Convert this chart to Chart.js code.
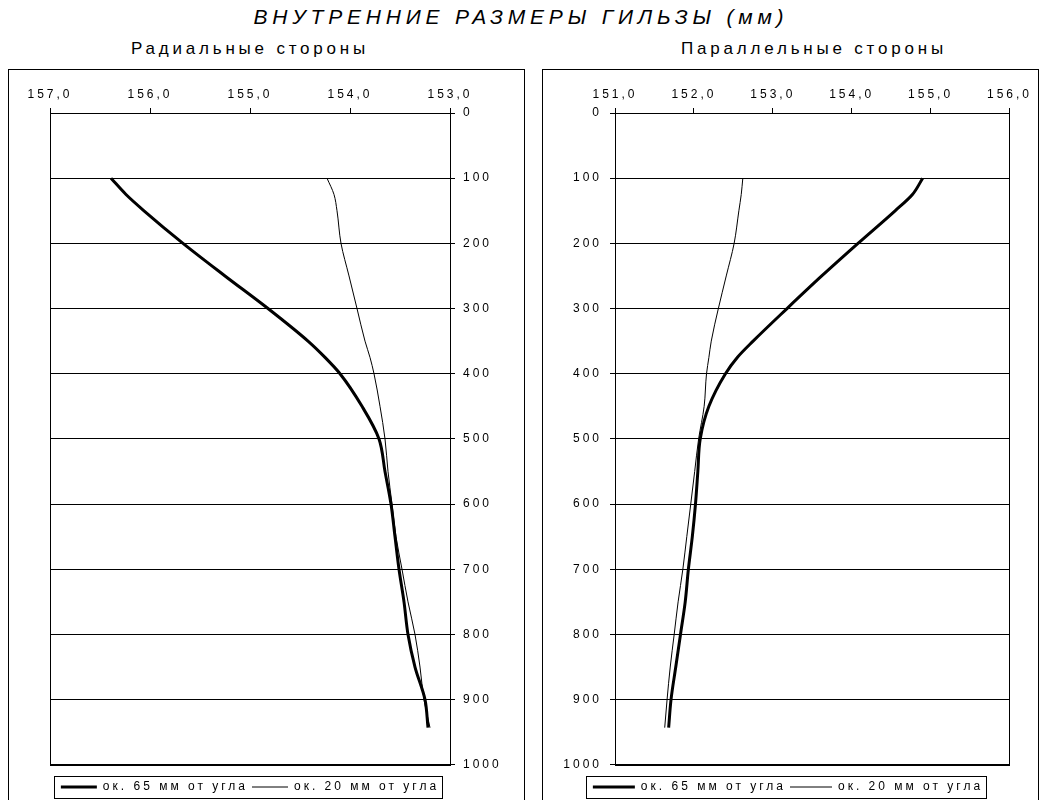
<!DOCTYPE html>
<html>
<head>
<meta charset="utf-8">
<script src="https://cdn.jsdelivr.net/npm/chart.js@4.4.0/dist/chart.umd.min.js"></script>
<style>
  body { margin:0; background:#fff; width:1042px; height:800px; overflow:hidden; position:relative;
         font-family:"Liberation Sans", Arial, sans-serif; color:#000; }
  #title { position:absolute; left:0; top:5px; width:1042px; text-align:center;
           font-size:21px; font-style:italic; letter-spacing:4.8px; }
  .sub { position:absolute; top:39px; font-size:17px; letter-spacing:3.8px; text-align:center; }
  .box { position:absolute; top:69px; height:760px; border:1px solid #000; }
  .box canvas { position:absolute; left:0; top:0; }
</style>
</head>
<body>
<div id="title">ВНУТРЕННИЕ РАЗМЕРЫ ГИЛЬЗЫ (мм)</div>
<div class="sub" style="left:50px;width:400px;">Радиальные стороны</div>
<div class="sub" style="left:615px;width:398px;">Параллельные стороны</div>
<div class="box" style="left:8px;width:515px;"><canvas id="cRadial" width="515" height="740"></canvas></div>
<div class="box" style="left:542px;width:495px;"><canvas id="cParallel" width="495" height="740"></canvas></div>

<script>
// глубина (мм от верха гильзы)
const depths = [100,125,150,200,250,300,350,375,400,450,500,550,600,650,700,750,800,850,900,943];

// радиальные стороны
const radial65 = [156.39,156.24,156.06,155.67,155.25,154.82,154.42,154.25,154.10,153.88,153.71,153.65,153.59,153.55,153.51,153.46,153.42,153.35,153.25,153.22];
const radial20 = [154.23,154.16,154.13,154.09,154.01,153.93,153.85,153.80,153.76,153.70,153.65,153.62,153.58,153.54,153.48,153.42,153.35,153.30,153.26,153.20];

// параллельные стороны
const parallel65 = [154.90,154.77,154.55,154.08,153.62,153.18,152.75,152.55,152.40,152.19,152.08,152.05,152.02,151.98,151.93,151.89,151.83,151.77,151.71,151.68];
const parallel20 = [152.62,152.60,152.57,152.51,152.41,152.31,152.22,152.19,152.16,152.13,152.06,152.01,151.96,151.91,151.86,151.80,151.75,151.70,151.66,151.63];

const seriesNames = ['ок. 65 мм от угла', 'ок. 20 мм от угла'];
const radialTicks = [153,154,155,156,157];
const parallelTicks = [151,152,153,154,155,156];
const depthTicks = [0,100,200,300,400,500,600,700,800,900,1000];

const FONT = { family: '"Liberation Sans", Arial, sans-serif', size: 12 };
const LS = '3px';

const pts = vals => vals.map((v, i) => ({ x: v, y: depths[i] }));
const fmtMm = v => v.toFixed(1).replace('.', ',');
const setTicks = arr => s => { s.ticks = arr.map(v => ({ value: v })); };

// рамка области построения и рамка легенды
const framePlugin = {
  id: 'frame',
  beforeUpdate(chart){ chart.ctx.letterSpacing = LS; },
  beforeDraw(chart){ chart.ctx.letterSpacing = LS; },
  afterDraw(chart){
    const { ctx, chartArea: a, legend } = chart;
    const al = p => Math.round(p - 0.5) + 0.5;
    ctx.save();
    ctx.strokeStyle = '#000';
    ctx.lineWidth = 1;
    ctx.strokeRect(al(a.left), al(a.top), Math.round(a.right - a.left), Math.round(a.bottom - a.top));
    const hb = legend.legendHitBoxes;
    if (hb && hb.length){
      const l = Math.min(...hb.map(h => h.left)) - 6;
      const r = Math.max(...hb.map(h => h.left + h.width)) + 4;
      const cy = hb[0].top + hb[0].height / 2;
      ctx.strokeRect(al(l), al(cy - 11), Math.round(r - l), 22);
    }
    ctx.restore();
  }
};

function makeChart(id, v65, v20, xTicks, opts){
  const ctx = document.getElementById(id).getContext('2d');
  return new Chart(ctx, {
    type: 'line',
    data: {
      datasets: [
        { label: seriesNames[0], data: pts(v65), borderColor: '#000', backgroundColor: '#000',
          borderWidth: 3, pointRadius: 0, cubicInterpolationMode: 'monotone' },
        { label: seriesNames[1], data: pts(v20), borderColor: '#000', backgroundColor: '#000',
          borderWidth: 1, pointRadius: 0, cubicInterpolationMode: 'monotone' }
      ]
    },
    options: {
      indexAxis: 'y',
      responsive: false,
      animation: false,
      layout: { padding: opts.padding },
      plugins: {
        tooltip: { enabled: false },
        legend: {
          position: 'bottom',
          fullSize: opts.legendFull,
          title: { display: true, text: '', font: { size: 1 }, padding: { top: 11, bottom: 0 } },
          labels: { usePointStyle: true, pointStyle: 'line', pointStyleWidth: opts.sample, padding: 4,
                    color: '#000', font: FONT }
        }
      },
      scales: {
        x: {
          type: 'linear', position: 'top', reverse: opts.reverse,
          min: xTicks[0], max: xTicks[xTicks.length - 1],
          afterBuildTicks: setTicks(xTicks),
          afterFit: s => { s.height = 43; },
          grid: { drawOnChartArea: false, color: '#000', tickLength: 5 },
          border: { color: '#000' },
          ticks: { color: '#000', font: FONT, padding: 6, callback: fmtMm, maxRotation: 0 }
        },
        y: {
          type: 'linear', position: opts.yPos, reverse: true, min: 0, max: 1000,
          afterBuildTicks: setTicks(depthTicks),
          afterFit: s => { s.width = opts.yWidth; },
          grid: { color: '#000', tickLength: 5 },
          border: { color: '#000' },
          ticks: { color: '#000', font: FONT, padding: 8, callback: v => String(v) }
        }
      }
    },
    plugins: [framePlugin]
  });
}

makeChart('cRadial', radial65, radial20, radialTicks,
  { reverse: true, yPos: 'right', yWidth: 74, legendFull: false, sample: 36,
    padding: { left: 41, right: 0, top: 0, bottom: 7 } });
makeChart('cParallel', parallel65, parallel20, parallelTicks,
  { reverse: false, yPos: 'left', yWidth: 52, legendFull: true, sample: 42,
    padding: { left: 20, right: 25, top: 0, bottom: 7 } });
</script>
</body>
</html>
